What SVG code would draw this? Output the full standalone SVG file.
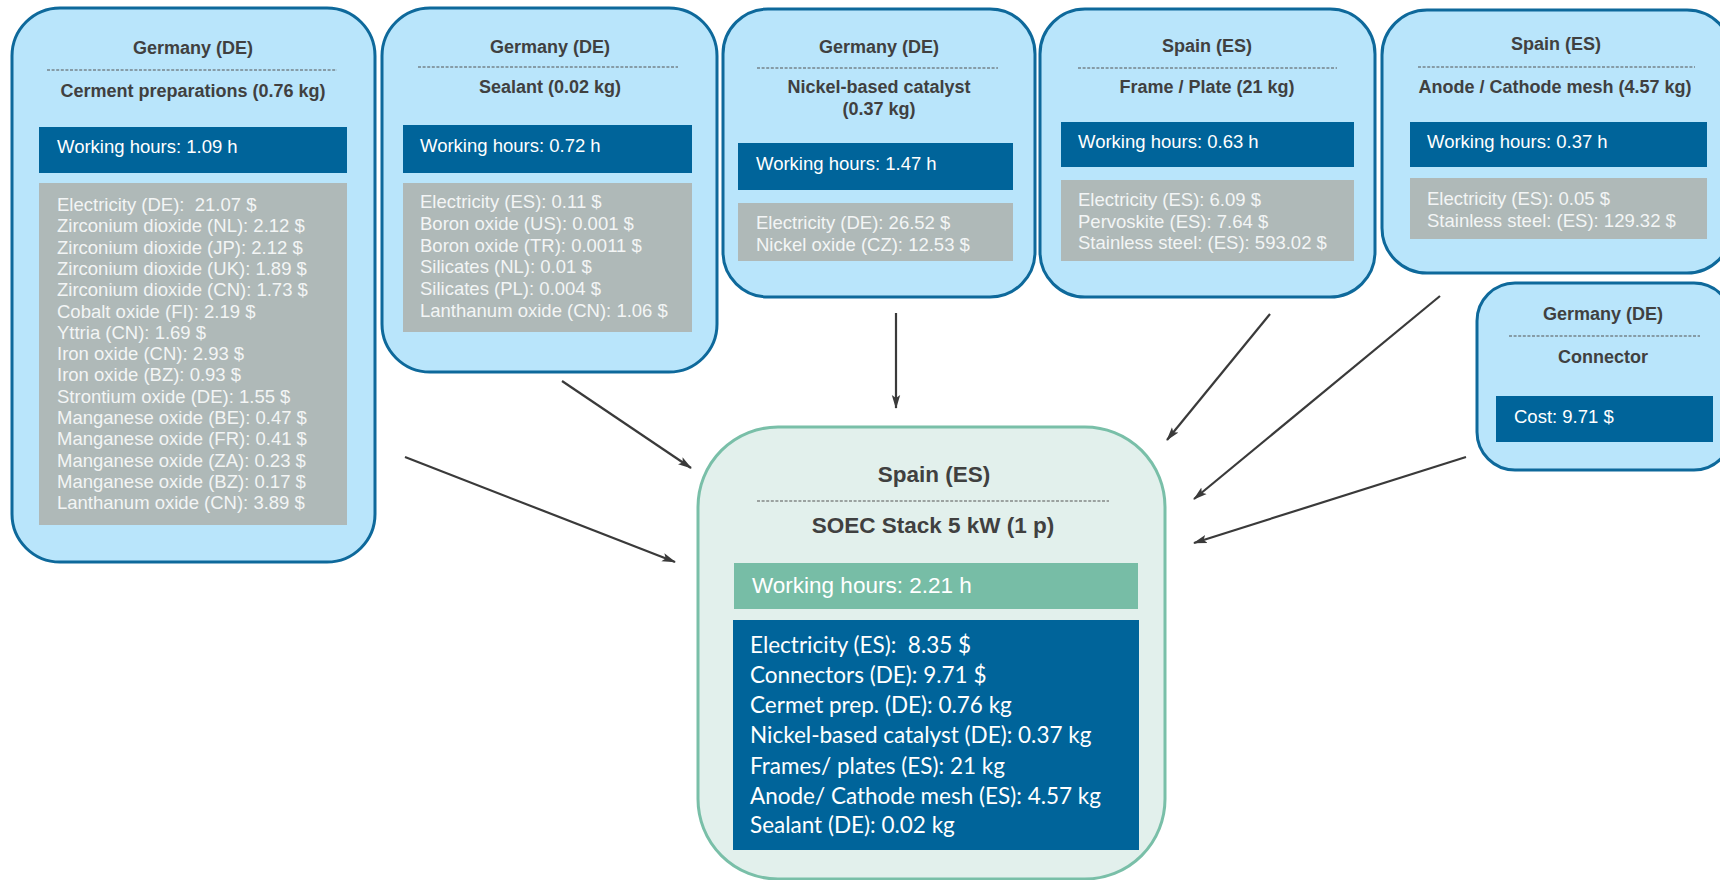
<svg xmlns="http://www.w3.org/2000/svg" width="1720" height="880" viewBox="0 0 1720 880">
<defs>
<marker id="arr" viewBox="0 0 14 10" refX="13" refY="5" markerWidth="14" markerHeight="10" markerUnits="userSpaceOnUse" orient="auto">
<path d="M0,0.8 L14,5 L0,9.2 L3,5 Z" fill="#3a3a3a"/>
</marker>
<style>
.node{fill:#B9E5FB;stroke:#0E699B;stroke-width:3}
.center{fill:#E2F0EC;stroke:#79BFA8;stroke-width:3}
.wh{fill:#00649A}
.gr{fill:#AFB9B8}
.teal{fill:#77BDA6}
.dash{stroke:#555;stroke-width:1.2;stroke-dasharray:3 1.6;fill:none}
text{white-space:pre}
.t{font-family:"Liberation Sans",Arial,sans-serif;font-weight:bold;font-size:18px;fill:#404040;text-anchor:middle}
.tc{font-family:"Liberation Sans",Arial,sans-serif;font-weight:bold;font-size:22.5px;fill:#404040;text-anchor:middle}
.w{font-family:"Liberation Sans",Arial,sans-serif;font-size:18.5px;fill:#ffffff}
.g{font-family:"Liberation Sans",Arial,sans-serif;font-size:18.5px;fill:#F3F5F5}
.wc{font-family:"Liberation Sans",Arial,sans-serif;font-size:22.5px;fill:#ffffff}
.l{font-family:Lato,"Open Sans",sans-serif;font-size:22.5px;fill:#ffffff}
.c{stroke:#3a3a3a;stroke-width:2.2;fill:none;marker-end:url(#arr)}
</style>
</defs>
<g id="connectors">
<line class="c" x1="405" y1="457" x2="675" y2="562"/>
<line class="c" x1="562" y1="381" x2="691" y2="468"/>
<line class="c" x1="896" y1="313" x2="896" y2="408"/>
<line class="c" x1="1270" y1="314" x2="1167" y2="440"/>
<line class="c" x1="1440" y1="296" x2="1194" y2="499"/>
<line class="c" x1="1466" y1="457" x2="1194" y2="543"/>
</g>
<g id="node-cermet">
<rect class="node" x="12" y="8" width="363" height="554" rx="48"/>
<text class="t" x="193" y="54">Germany (DE)</text>
<line class="dash" x1="47" y1="70" x2="337" y2="70"/>
<text class="t" x="193" y="97">Cerment preparations (0.76 kg)</text>
<rect class="wh" x="39" y="127" width="308" height="46"/>
<text class="w" x="57" y="153">Working hours: 1.09 h</text>
<rect class="gr" x="39" y="183" width="308" height="342"/>
<text class="g" x="57" y="211">Electricity (DE):  21.07 $</text>
<text class="g" x="57" y="232.3">Zirconium dioxide (NL): 2.12 $</text>
<text class="g" x="57" y="253.6">Zirconium dioxide (JP): 2.12 $</text>
<text class="g" x="57" y="274.9">Zirconium dioxide (UK): 1.89 $</text>
<text class="g" x="57" y="296.2">Zirconium dioxide (CN): 1.73 $</text>
<text class="g" x="57" y="317.5">Cobalt oxide (FI): 2.19 $</text>
<text class="g" x="57" y="338.8">Yttria (CN): 1.69 $</text>
<text class="g" x="57" y="360.1">Iron oxide (CN): 2.93 $</text>
<text class="g" x="57" y="381.4">Iron oxide (BZ): 0.93 $</text>
<text class="g" x="57" y="402.7">Strontium oxide (DE): 1.55 $</text>
<text class="g" x="57" y="424">Manganese oxide (BE): 0.47 $</text>
<text class="g" x="57" y="445.3">Manganese oxide (FR): 0.41 $</text>
<text class="g" x="57" y="466.6">Manganese oxide (ZA): 0.23 $</text>
<text class="g" x="57" y="487.9">Manganese oxide (BZ): 0.17 $</text>
<text class="g" x="57" y="509.2">Lanthanum oxide (CN): 3.89 $</text>
</g>
<g id="node-sealant">
<rect class="node" x="382" y="8" width="335" height="364" rx="48"/>
<text class="t" x="550" y="53">Germany (DE)</text>
<line class="dash" x1="418" y1="67" x2="678" y2="67"/>
<text class="t" x="550" y="93">Sealant (0.02 kg)</text>
<rect class="wh" x="403" y="125" width="289" height="48"/>
<text class="w" x="420" y="152">Working hours: 0.72 h</text>
<rect class="gr" x="403" y="183" width="289" height="149"/>
<text class="g" x="420" y="208">Electricity (ES): 0.11 $</text>
<text class="g" x="420" y="229.8">Boron oxide (US): 0.001 $</text>
<text class="g" x="420" y="251.6">Boron oxide (TR): 0.0011 $</text>
<text class="g" x="420" y="273.4">Silicates (NL): 0.01 $</text>
<text class="g" x="420" y="295.2">Silicates (PL): 0.004 $</text>
<text class="g" x="420" y="317">Lanthanum oxide (CN): 1.06 $</text>
</g>
<g id="node-nickel">
<rect class="node" x="723" y="9" width="312" height="288" rx="45"/>
<text class="t" x="879" y="53">Germany (DE)</text>
<line class="dash" x1="757" y1="68" x2="998" y2="68"/>
<text class="t" x="879" y="93">Nickel-based catalyst</text>
<text class="t" x="879" y="115">(0.37 kg)</text>
<rect class="wh" x="738" y="143" width="275" height="47"/>
<text class="w" x="756" y="170">Working hours: 1.47 h</text>
<rect class="gr" x="738" y="203" width="275" height="58"/>
<text class="g" x="756" y="229">Electricity (DE): 26.52 $</text>
<text class="g" x="756" y="251">Nickel oxide (CZ): 12.53 $</text>
</g>
<g id="node-frame">
<rect class="node" x="1040" y="9" width="335" height="288" rx="45"/>
<text class="t" x="1207" y="52">Spain (ES)</text>
<line class="dash" x1="1078" y1="68" x2="1337" y2="68"/>
<text class="t" x="1207" y="93">Frame / Plate (21 kg)</text>
<rect class="wh" x="1061" y="122" width="293" height="45"/>
<text class="w" x="1078" y="148">Working hours: 0.63 h</text>
<rect class="gr" x="1061" y="180" width="293" height="81"/>
<text class="g" x="1078" y="206">Electricity (ES): 6.09 $</text>
<text class="g" x="1078" y="227.5">Pervoskite (ES): 7.64 $</text>
<text class="g" x="1078" y="249">Stainless steel: (ES): 593.02 $</text>
</g>
<g id="node-mesh">
<rect class="node" x="1382" y="10" width="350" height="263" rx="45"/>
<text class="t" x="1556" y="50">Spain (ES)</text>
<line class="dash" x1="1418" y1="67" x2="1695" y2="67"/>
<text class="t" x="1555" y="93">Anode / Cathode mesh (4.57 kg)</text>
<rect class="wh" x="1410" y="122" width="297" height="45"/>
<text class="w" x="1427" y="148">Working hours: 0.37 h</text>
<rect class="gr" x="1410" y="178" width="297" height="61"/>
<text class="g" x="1427" y="205">Electricity (ES): 0.05 $</text>
<text class="g" x="1427" y="227">Stainless steel: (ES): 129.32 $</text>
</g>
<g id="node-connector">
<rect class="node" x="1477" y="283" width="255" height="187" rx="38"/>
<text class="t" x="1603" y="320">Germany (DE)</text>
<line class="dash" x1="1509" y1="336" x2="1700" y2="336"/>
<text class="t" x="1603" y="363">Connector</text>
<rect class="wh" x="1496" y="396" width="217" height="46"/>
<text class="w" x="1514" y="423">Cost: 9.71 $</text>
</g>
<g id="node-stack">
<rect class="center" x="698" y="427" width="467" height="452" rx="80"/>
<text class="tc" x="934" y="482">Spain (ES)</text>
<line class="dash" x1="757" y1="501" x2="1109" y2="501"/>
<text class="tc" x="933" y="533">SOEC Stack 5 kW (1 p)</text>
<rect class="teal" x="734" y="563" width="404" height="46"/>
<text class="wc" x="752" y="593">Working hours: 2.21 h</text>
<rect class="wh" x="733" y="620" width="406" height="230"/>
<text class="l" x="750" y="653">Electricity (ES):  8.35 $</text>
<text class="l" x="750" y="683">Connectors (DE): 9.71 $</text>
<text class="l" x="750" y="713">Cermet prep. (DE): 0.76 kg</text>
<text class="l" x="750" y="743">Nickel-based catalyst (DE): 0.37 kg</text>
<text class="l" x="750" y="774">Frames/ plates (ES): 21 kg</text>
<text class="l" x="750" y="804">Anode/ Cathode mesh (ES): 4.57 kg</text>
<text class="l" x="750" y="833">Sealant (DE): 0.02 kg</text>
</g>
</svg>
